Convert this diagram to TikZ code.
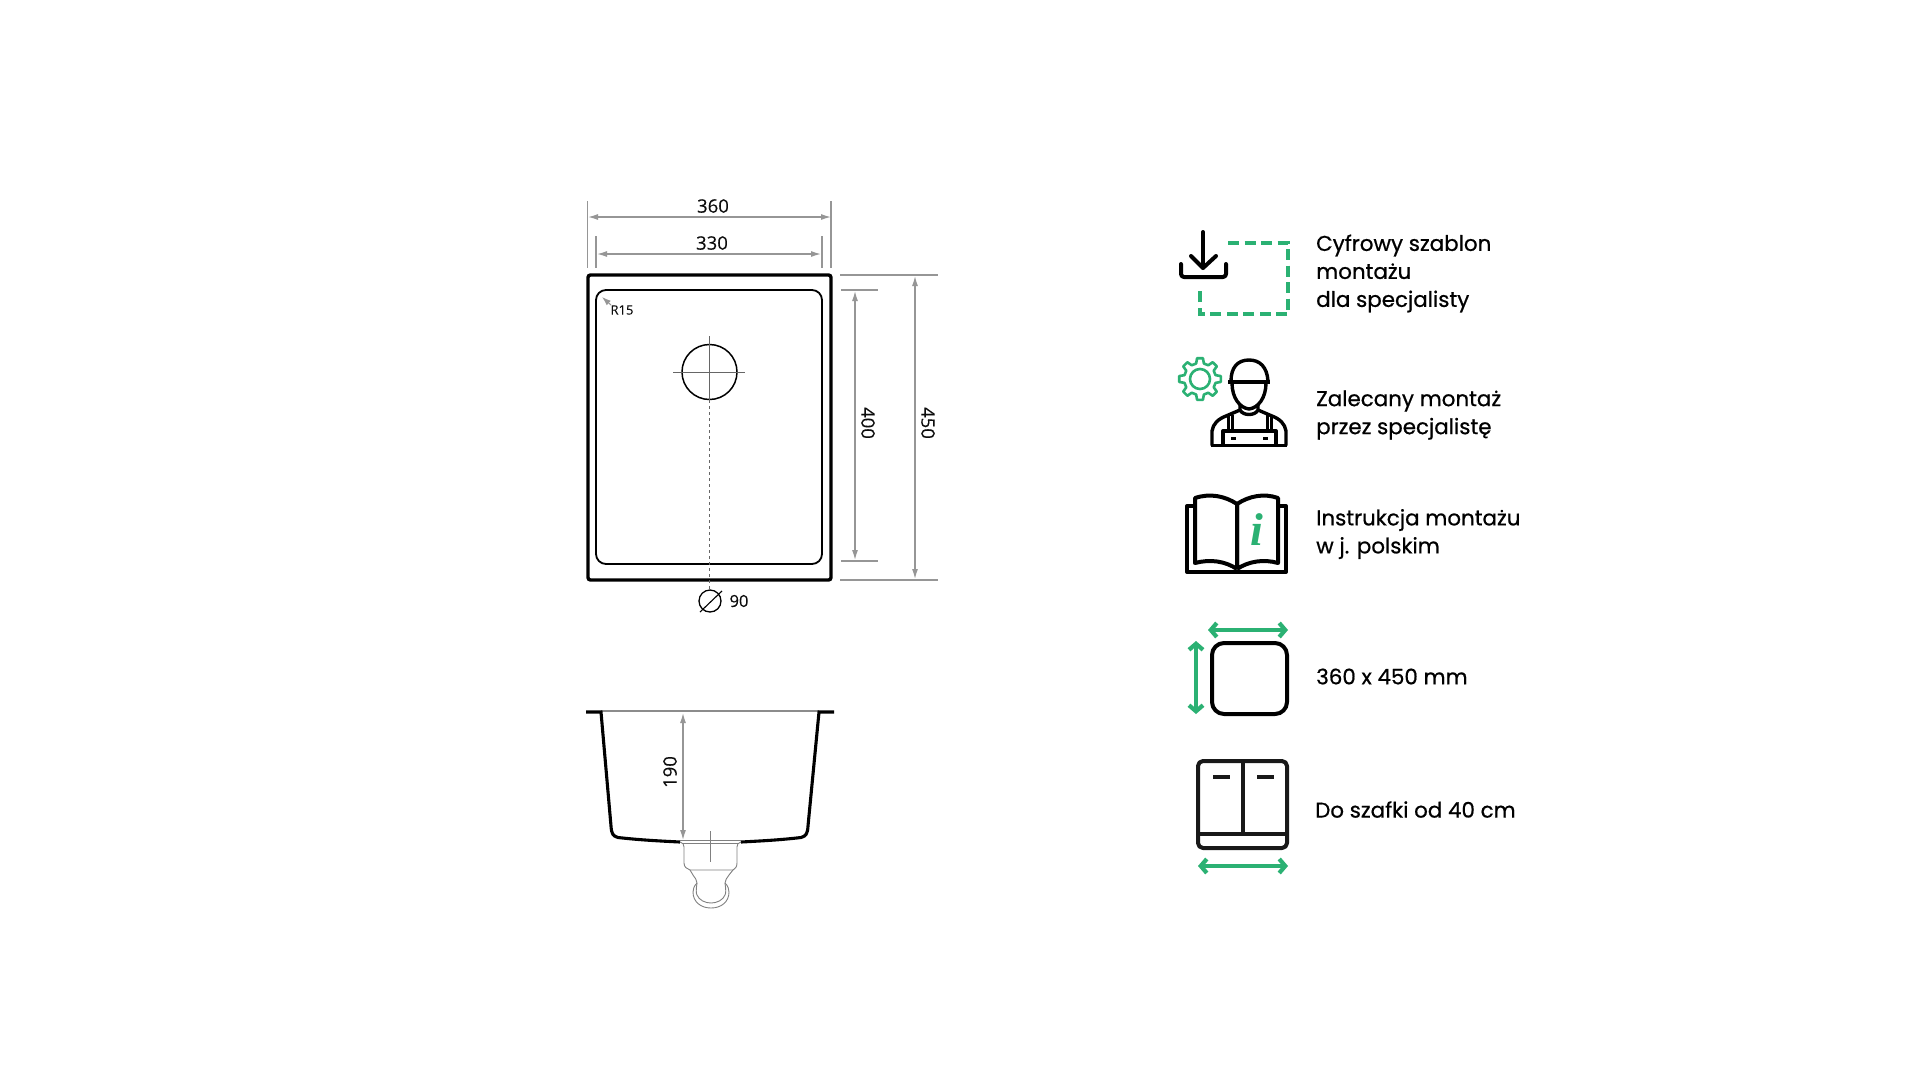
\documentclass[tikz,border=0pt]{standalone}
\usepackage{fontspec}
\setmainfont{Poppins}[FakeBold=0.7]
\newfontfamily\dimfont{Open Sans}[FakeBold=0.15]
\newfontfamily\infofont{Liberation Serif}
\usetikzlibrary{arrows.meta}
\definecolor{signgreen}{HTML}{2BB173}
\definecolor{dimgrey}{HTML}{969696}
\tikzset{
	dimline/.style={line width=1.3pt, color=dimgrey},
	dimarrow/.style={line width=1.3pt, color=dimgrey, {Latex[length=10pt,width=6pt]}-{Latex[length=10pt,width=6pt]}},
	dimtext/.style={font=\dimfont\fontsize{18.5}{20}\selectfont, inner sep=0pt, text=black!95},
	drainline/.style={line width=0.9pt, color=black!50},
	blackicon/.style={line width=4pt, color=black, line join=round},
	greenarrow/.style={line width=4.2pt, color=signgreen, {Straight Barb[length=6pt,width=14pt]}-{Straight Barb[length=6pt,width=14pt]}},
	infotext/.style={font=\fontsize{21.4}{28}\selectfont, anchor=west, align=left, inner sep=0pt}
}
\begin{document}
\begin{tikzpicture}[x=1pt, y=-1pt]
	%%%%% START %%%%%
	\fill[white] (0, 0) rectangle (1920, 1080);
	\useasboundingbox (0, 0) rectangle (1920, 1080);

	% top view
	\draw[line width=3.4pt, rounded corners=2.5pt] (588, 275) rectangle (831, 580);
	\draw[line width=1.8pt, rounded corners=10pt] (596, 290) rectangle (822, 564);
	\draw[line width=1.5pt] (709.5, 372) circle (27.5pt);
	\draw[line width=1pt, color=black!60] (673, 372) -- (745, 372);
	\draw[line width=1pt, color=black!60] (709.5, 336) -- (709.5, 400);
	\draw[line width=1pt, color=black!60, dashed] (709.5, 400) -- (709.5, 590);

	% dimensions of the top view
	\draw[dimline] (587.5, 201) -- (587.5, 268);
	\draw[dimline] (831, 201) -- (831, 268);
	\draw[dimarrow] (588, 217) -- (831, 217);
	\node[dimtext] (widthout) at (713, 206) {360};
	\draw[dimline] (596, 236) -- (596, 268);
	\draw[dimline] (822, 236) -- (822, 268);
	\draw[dimarrow] (597, 254) -- (821, 254);
	\node[dimtext] (widthin) at (712, 243) {330};
	\draw[dimline] (840, 275) -- (938, 275);
	\draw[dimline] (840, 580) -- (938, 580);
	\draw[dimarrow] (915, 276) -- (915, 579);
	\node[dimtext, rotate=-90] (heightout) at (928, 423) {450};
	\draw[dimline] (841, 290) -- (878, 290);
	\draw[dimline] (841, 561) -- (878, 561);
	\draw[dimarrow] (855, 291) -- (855, 560);
	\node[dimtext, rotate=-90] (heightin) at (868, 423) {400};
	\draw[line width=1pt, color=dimgrey, {Latex[length=9pt,width=6pt]}-] (602, 297) -- (611, 305);
	\node[dimtext, font=\dimfont\fontsize{13}{15}\selectfont] (radius) at (622, 310) {R15};
	\draw[line width=1.3pt] (710, 601) circle (11pt);
	\draw[line width=1.1pt] (700, 612) -- (722, 591);
	\node[dimtext, font=\dimfont\fontsize{16.5}{18}\selectfont] (drainsize) at (739, 601) {90};

	% side view
	\draw[dimline, color=black!45] (601, 711) -- (819, 711);
	\draw[line width=3.1pt] (586, 712) -- (601, 712) -- (611, 826) .. controls (611.5, 834) and (613, 836) .. (618, 837.5) .. controls (640, 840) and (660, 841) .. (680, 842);
	\draw[line width=3.1pt] (834, 712) -- (819, 712) -- (808, 826) .. controls (807.5, 834) and (806, 836) .. (801, 837.5) .. controls (780, 840) and (760, 841) .. (741, 842);
	\draw[dimarrow] (683, 713) -- (683, 840);
	\node[dimtext, rotate=90] (depth) at (670, 772) {190};

	% drain
	\draw[drainline] (680, 840) -- (741, 840);
	\draw[drainline] (683, 843) -- (738, 843);
	\draw[drainline] (680, 842) .. controls (683, 843) and (684, 844) .. (684, 847) -- (684, 863) .. controls (684, 867) and (687, 869) .. (690, 870) -- (733, 870) .. controls (735, 869) and (737, 867) .. (737, 863) -- (737, 847) .. controls (737, 844) and (738, 843) .. (741, 842);
	\draw[drainline] (690, 870) -- (693, 875) .. controls (695, 878) and (697, 880) .. (697, 883) .. controls (694, 886) and (693, 889) .. (693, 892) .. controls (693, 902) and (701, 908) .. (711, 908) .. controls (721, 908) and (729, 902) .. (729, 892) .. controls (729, 889) and (728, 886) .. (725, 883) .. controls (725, 880) and (727, 878) .. (729, 875) -- (733, 870);
	\draw[drainline] (697, 883) .. controls (696, 890) and (696, 893) .. (697, 895) .. controls (699, 900) and (705, 903) .. (711, 903) .. controls (717, 903) and (723, 900) .. (725, 895) .. controls (726, 893) and (726, 890) .. (725, 883);
	\draw[drainline] (710, 831) -- (710, 862);

	% download icon
	\draw[blackicon, line cap=round] (1203, 232) -- (1203, 268);
	\draw[blackicon, line cap=round] (1191, 256) -- (1203, 268) -- (1216, 256);
	\draw[blackicon, line cap=round, rounded corners=3pt] (1181, 264) -- (1181, 277) -- (1226, 277) -- (1226, 264);
	\draw[line width=4.5pt, color=signgreen, dash pattern=on 11pt off 5.5pt] (1228, 243) -- (1288, 243) -- (1288, 314) -- (1200, 314) -- (1200, 287);

	% gear
	\begin{scope}[shift={(1200, 379)}]
		\draw[line width=2.6pt, color=signgreen, line join=round] (-14:16) foreach \a in {0,45,...,315} {-- (\a-14:16) -- (\a-8:21) -- (\a+8:21) -- (\a+14:16)} -- cycle;
		\draw[line width=2.6pt, color=signgreen] (0, 0) circle (10pt);
	\end{scope}

	% worker
	\draw[blackicon, line width=3.4pt] (1231, 381) .. controls (1231, 367) and (1238, 360) .. (1249, 360) .. controls (1260, 360) and (1267, 367) .. (1268, 381);
	\draw[blackicon, line width=3.4pt] (1228, 382) -- (1270, 382);
	\draw[blackicon, line width=3.4pt] (1232, 383) .. controls (1232, 398) and (1240, 408) .. (1249, 409) .. controls (1258, 408) and (1266, 398) .. (1266, 383);
	\draw[blackicon, line width=3.4pt] (1240, 405) -- (1240, 410) .. controls (1243, 416) and (1255, 416) .. (1258, 410) -- (1258, 405);
	\draw[blackicon, line width=3.4pt] (1212, 445.5) -- (1212, 431) .. controls (1213, 424) and (1218, 419) .. (1226, 416) -- (1240, 410);
	\draw[blackicon, line width=3.4pt] (1286, 445.5) -- (1286, 431) .. controls (1285, 424) and (1280, 419) .. (1272, 416) -- (1258, 410);
	\draw[blackicon, line width=3pt] (1228, 416) -- (1228, 431);
	\draw[blackicon, line width=3pt] (1232, 415) -- (1232, 431);
	\draw[blackicon, line width=3pt] (1267, 415) -- (1267, 431);
	\draw[blackicon, line width=3pt] (1271, 416) -- (1271, 431);
	\draw[blackicon, line width=3.4pt] (1223, 445.5) -- (1223, 431) -- (1276, 431) -- (1276, 445.5);
	\draw[blackicon, line width=3.4pt] (1211, 445.5) -- (1287, 445.5);
	\draw[blackicon, line width=3pt] (1231, 438.5) -- (1236, 438.5);
	\draw[blackicon, line width=3pt] (1263, 438.5) -- (1268, 438.5);

	% book
	\draw[blackicon] (1237, 569) -- (1237, 504) .. controls (1225, 496) and (1210, 493) .. (1195, 498) -- (1195, 563) .. controls (1210, 559) and (1225, 561) .. (1237, 569);
	\draw[blackicon] (1237, 569) -- (1237, 504) .. controls (1249, 496) and (1264, 493) .. (1278, 498) -- (1278, 563) .. controls (1264, 559) and (1249, 561) .. (1237, 569);
	\draw[blackicon] (1195, 506) -- (1187, 506) -- (1187, 572) -- (1286, 572) -- (1286, 506) -- (1278, 506);
	\node[font=\infofont\bfseries\itshape\fontsize{46}{46}\selectfont, text=signgreen, inner sep=0pt] (infoletter) at (1257, 530) {i};

	% size icon
	\draw[blackicon, rounded corners=12pt] (1212, 643) rectangle (1287, 714);
	\draw[greenarrow] (1208, 630) -- (1288, 630);
	\draw[greenarrow] (1196, 641) -- (1196, 714);

	% cabinet
	\draw[blackicon, rounded corners=5pt, color=black!90] (1198, 761) rectangle (1287, 848);
	\draw[blackicon, color=black!90] (1243, 761) -- (1243, 834);
	\draw[blackicon, color=black!90] (1198, 834) -- (1287, 834);
	\draw[blackicon, color=black!90] (1213, 777) -- (1230, 777);
	\draw[blackicon, color=black!90] (1257, 777) -- (1274, 777);
	\draw[greenarrow] (1198, 866) -- (1288, 866);

	% labels
	\node[infotext] (template) at (1316, 273.5) {Cyfrowy szablon\\montażu\\dla specjalisty};
	\node[infotext] (fitter) at (1316, 415) {Zalecany montaż\\przez specjalistę};
	\node[infotext] (manual) at (1316, 534) {Instrukcja montażu\\w j. polskim};
	\node[infotext] (size) at (1316, 676.5) {360 x 450 mm};
	\node[infotext] (cabinet) at (1315, 809.5) {Do szafki od 40 cm};
	%%%%% END %%%%%
\end{tikzpicture}
\end{document}
